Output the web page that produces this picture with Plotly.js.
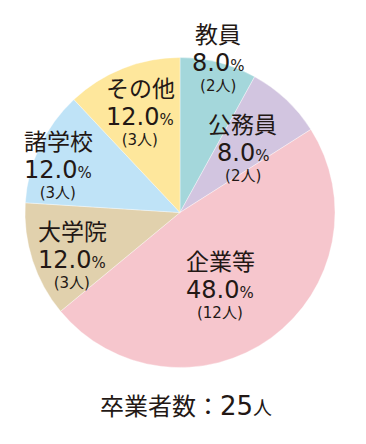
<!DOCTYPE html>
<html><head><meta charset="utf-8">
<script src="https://cdn.plot.ly/plotly-3.0.1.min.js"></script>
<style>html,body{margin:0;padding:0;background:#fff}</style>
</head><body>
<div id="chart" style="width:366px;height:444px"></div>
<script>
const categories = ["教員", "公務員", "企業等", "大学院", "諸学校", "その他"];
const percents = [8.0, 8.0, 48.0, 12.0, 12.0, 12.0];
const counts = [2, 2, 12, 3, 3, 3];
const total = 25;
const colors = ["#a4d7db", "#d2c5e0", "#f6c6cd", "#e1d1ad", "#bfe3f7", "#fee79c"];

// label layout positions (paper px: center x, name line y)
const labelPos = [[218, 33], [243, 123], [220, 260], [72, 230], [58, 140], [140, 87]];

const W = 366, H = 444;
const cjk = "Noto Sans CJK JP, sans-serif";
const num = "DejaVu Sans, Noto Sans CJK JP, sans-serif";
const ink = "#231815";
const annotations = [];
function ann(x, y, text, size, family) {
  annotations.push({x: x / W, y: 1 - y / H, xref: "paper", yref: "paper", xanchor: "center", yanchor: "middle",
    text: text, showarrow: false, font: {family: family, size: size, color: ink}});
}
categories.forEach((c, i) => {
  const [x, y] = labelPos[i];
  ann(x, y, c, 23, cjk);
  ann(x, y + 39,
    '<span style="font-size:24px">' + percents[i].toFixed(1) + '<span style="font-size:15px">%</span></span>' +
    '<br>(' + counts[i] + '人)', 15, num);
});
ann(186, 404, '卒業者数：<span style="font-family:DejaVu Sans;font-size:26px">' + total +
  '</span><span style="font-size:19px">人</span>', 24, cjk);

Plotly.newPlot("chart", [{
  type: "pie",
  labels: categories,
  values: percents,
  sort: false,
  direction: "clockwise",
  rotation: 0,
  textinfo: "none",
  hoverinfo: "none",
  marker: {colors: colors, line: {color: "rgba(255,255,255,0.6)", width: 0.6}},
  domain: {x: [25 / W, 335 / W], y: [1 - 368 / H, 1 - 57 / H]},
  showlegend: false
}], {
  width: W, height: H,
  margin: {l: 0, r: 0, t: 0, b: 0},
  paper_bgcolor: "#fff",
  showlegend: false,
  annotations: annotations
}, {displayModeBar: false, staticPlot: true});
</script>
</body></html>
